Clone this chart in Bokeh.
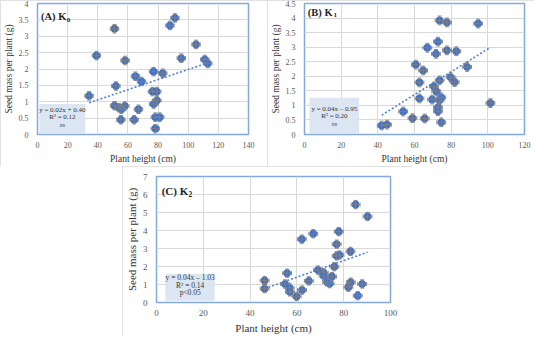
import numpy as np
from bokeh.plotting import figure
from bokeh.models import (ColumnDataSource, Whisker, TeeHead, BoxAnnotation, Label,
                          FixedTicker, NumeralTickFormatter, Range1d, Spacer)
from bokeh.layouts import row, column
from bokeh.embed import file_html
from bokeh.resources import INLINE

FONT = "'Liberation Serif', 'Times New Roman', serif"

# ---------------- data ----------------
# (A) K0
height_A = [34.2, 39.1, 51.1, 52.0, 58.1, 51.1, 54.0, 55.6, 57.9, 55.3, 64.1, 67.0, 65.0, 69.0,
            77.0, 83.1, 76.3, 79.1, 79.2, 77.1, 78.2, 81.1, 78.2, 87.9, 91.2, 95.4, 105.2, 111.0, 113.0]
seed_A = [1.18, 2.41, 3.23, 1.48, 2.26, 0.88, 0.82, 0.77, 0.87, 0.45, 0.45, 0.77, 1.78, 1.62,
          1.92, 1.87, 1.31, 1.31, 1.04, 0.93, 0.53, 0.53, 0.18, 3.33, 3.56, 2.33, 2.75, 2.29, 2.17]
xerr_A, yerr_A = 2.8, 0.13
eq_A = ["y = 0.02x + 0.40", "R² = 0.12", "ns"]

# (B) K1
height_B = [42.1, 45.0, 53.8, 58.9, 65.6, 60.7, 64.7, 62.7, 67.0, 71.7, 72.8, 73.7, 77.7, 94.7,
            77.7, 82.8, 88.7, 79.7, 81.9, 73.7, 70.6, 71.9, 62.7, 69.6, 73.7, 74.6, 72.8, 72.8, 74.6, 101.4]
seed_B = [0.31, 0.34, 0.79, 0.56, 0.55, 2.40, 2.20, 1.79, 2.98, 2.77, 3.19, 3.92, 3.85, 3.81,
          2.89, 2.86, 2.32, 1.97, 1.80, 1.86, 1.65, 1.48, 1.24, 1.20, 1.18, 1.27, 0.93, 0.80, 0.42, 1.08]
xerr_B, yerr_B = 2.4, 0.15
eq_B = ["y = 0.04x \u2013 0.95", "R² = 0.20", "ns"]

# (C) K2
height_C = [46.2, 46.2, 55.8, 54.9, 56.9, 57.0, 59.9, 62.2, 62.1, 67.0, 65.1, 69.0, 71.4, 71.5,
            72.9, 74.0, 75.0, 76.0, 77.0, 77.0, 77.9, 78.2, 82.9, 82.0, 83.0, 86.0, 87.9, 85.1, 90.2]
seed_C = [1.22, 0.77, 1.63, 1.03, 0.81, 0.59, 0.34, 0.69, 3.52, 3.82, 1.20, 1.80, 1.49, 1.65,
          1.14, 1.05, 1.44, 1.99, 2.59, 3.24, 3.94, 2.64, 2.84, 0.85, 1.13, 0.38, 1.03, 5.44, 4.78]
xerr_C, yerr_C = 1.9, 0.23
eq_C = ["y = 0.04x \u2013 1.03", "R² = 0.14", "p<0.05"]

x_ticks_A = [0, 20, 40, 60, 80, 100, 120, 140]
y_ticks_A = [0, 0.5, 1, 1.5, 2, 2.5, 3, 3.5, 4]
x_ticks_B = [0, 20, 40, 60, 80, 100, 120]
y_ticks_B = [0, 0.5, 1, 1.5, 2, 2.5, 3, 3.5, 4, 4.5]
x_ticks_C = [0, 20, 40, 60, 80, 100]
y_ticks_C = [0, 1, 2, 3, 4, 5, 6, 7]

X_TITLE = "Plant height (cm)"
Y_TITLE = "Seed mass per plant (g)"

BLUE = "#4472C4"
ERR = "#7F7F7F"
FRAME = "#84A9DF"
GRID = "#D9D9D9"
BOXFILL = "#DCE6F2"
TXT = "#333333"


def make_panel(x, y, xerr, yerr, xt, yt, letter, sub, eq, box, title_xy, eq_x, eq_ys,
               width, height, borders, tick_fs, title_fs, eq_fs, head_fs, ymt_fmt):
    p = figure(width=width, height=height, output_backend="svg", toolbar_location=None,
               x_range=Range1d(xt[0], xt[-1]), y_range=Range1d(yt[0], yt[-1]))
    p.min_border_left, p.min_border_right, p.min_border_top, p.min_border_bottom = borders
    p.background_fill_color = "white"
    p.border_fill_color = "white"
    p.outline_line_color = FRAME
    p.outline_line_width = 1.5
    p.styles = {"outline": "1px solid #D9D9D9", "outline-offset": "-1px"}

    p.xaxis.ticker = FixedTicker(ticks=xt)
    p.yaxis.ticker = FixedTicker(ticks=yt)
    p.xaxis.formatter = NumeralTickFormatter(format="0")
    p.yaxis.formatter = NumeralTickFormatter(format=ymt_fmt)
    for ax in (p.xaxis[0], p.yaxis[0]):
        ax.axis_line_color = None
        ax.major_tick_line_color = None
        ax.minor_tick_line_color = None
        ax.major_label_text_font = FONT
        ax.major_label_text_font_size = f"{tick_fs}px"
        ax.major_label_text_color = "#595959"
        ax.axis_label_text_font = FONT
        ax.axis_label_text_font_style = "normal"
        ax.axis_label_text_font_size = f"{title_fs}px"
        ax.axis_label_text_color = TXT
    p.xaxis.major_label_standoff = 1
    p.yaxis.major_label_standoff = 3
    p.xaxis.axis_label_standoff = 3
    p.yaxis.axis_label_standoff = 2
    p.xaxis.axis_label = X_TITLE
    p.yaxis.axis_label = Y_TITLE
    p.xgrid.grid_line_color = GRID
    p.ygrid.grid_line_color = GRID

    # equation box
    p.add_layout(BoxAnnotation(left=box[0], right=box[1], bottom=box[2], top=box[3],
                               fill_color=BOXFILL, fill_alpha=1.0, line_color=None, level="underlay"))
    for i, t in enumerate(eq):
        italic = (t == "ns")
        p.add_layout(Label(x=eq_x, y=eq_ys[i], text=t, text_font=FONT,
                           text_font_size=f"{eq_fs - (1 if italic else 0)}px",
                           text_font_style="italic" if italic else "normal",
                           text_color=TXT, text_align="center", text_baseline="middle"))

    src = ColumnDataSource(dict(x=x, y=y,
                                xl=[v - xerr for v in x], xu=[v + xerr for v in x],
                                yl=[v - yerr for v in y], yu=[v + yerr for v in y]))
    for base, lo, up, dim in (("y", "xl", "xu", "width"), ("x", "yl", "yu", "height")):
        p.add_layout(Whisker(source=src, base=base, lower=lo, upper=up, dimension=dim,
                             line_color=ERR, line_width=0.9, level="glyph",
                             lower_head=TeeHead(size=4, line_color=ERR, line_width=0.9),
                             upper_head=TeeHead(size=4, line_color=ERR, line_width=0.9)))

    # linear trend line fitted to the data
    coef = np.polyfit(np.array(x), np.array(y), 1)
    xs = [min(x), max(x)]
    ys = [coef[0] * v + coef[1] for v in xs]
    p.line(xs, ys, line_color="#4F81D6", line_width=1.6, line_dash="2 2")

    p.scatter("x", "y", source=src, size=7, fill_color=BLUE, line_color=BLUE)

    # panel heading
    p.add_layout(Label(x=title_xy[0], y=title_xy[1], text=f"({letter}) K", text_font=FONT,
                       text_font_size=f"{head_fs}px", text_font_style="bold", text_color="#262626",
                       text_align="left", text_baseline="middle"))
    kw = head_fs * 2.45
    p.add_layout(Label(x=title_xy[0], y=title_xy[1], x_offset=kw, y_offset=-3, text=sub,
                       text_font=FONT, text_font_size=f"{head_fs * 0.68:.1f}px",
                       text_font_style="bold", text_color="#262626",
                       text_align="left", text_baseline="middle"))
    return p


pA = make_panel(height_A, seed_A, xerr_A, yerr_A, x_ticks_A, y_ticks_A, "A", "0", eq_A,
                (1.3, 31.7, 0.02, 0.93), (2.3, 3.6), 16.5, (0.745, 0.545, 0.30),
                267, 166, (28, 19, 3, 31), 8, 9.5, 7, 10.5, "0.[0]")
pB = make_panel(height_B, seed_B, xerr_B, yerr_B, x_ticks_B, y_ticks_B, "B", "1", eq_B,
                (2.7, 29.8, 0.02, 1.26), (1.8, 4.2), 16.3, (0.88, 0.64, 0.37),
                267, 166, (36, 10, 3, 31), 8, 9.5, 7, 10.5, "0.[0]")
pC = make_panel(height_C, seed_C, xerr_C, yerr_C, x_ticks_C, y_ticks_C, "C", "2", eq_C,
                (3.8, 24.9, 0.1, 1.58), (2.2, 6.22), 14.4, (1.37, 0.97, 0.56),
                290, 170, (32, 22, 10, 23), 9, 11, 7.5, 11, "0")

layout = column(row(pA, pB), row(Spacer(width=122, height=170), pC))

open("out.html", "w").write(file_html(layout, INLINE))
